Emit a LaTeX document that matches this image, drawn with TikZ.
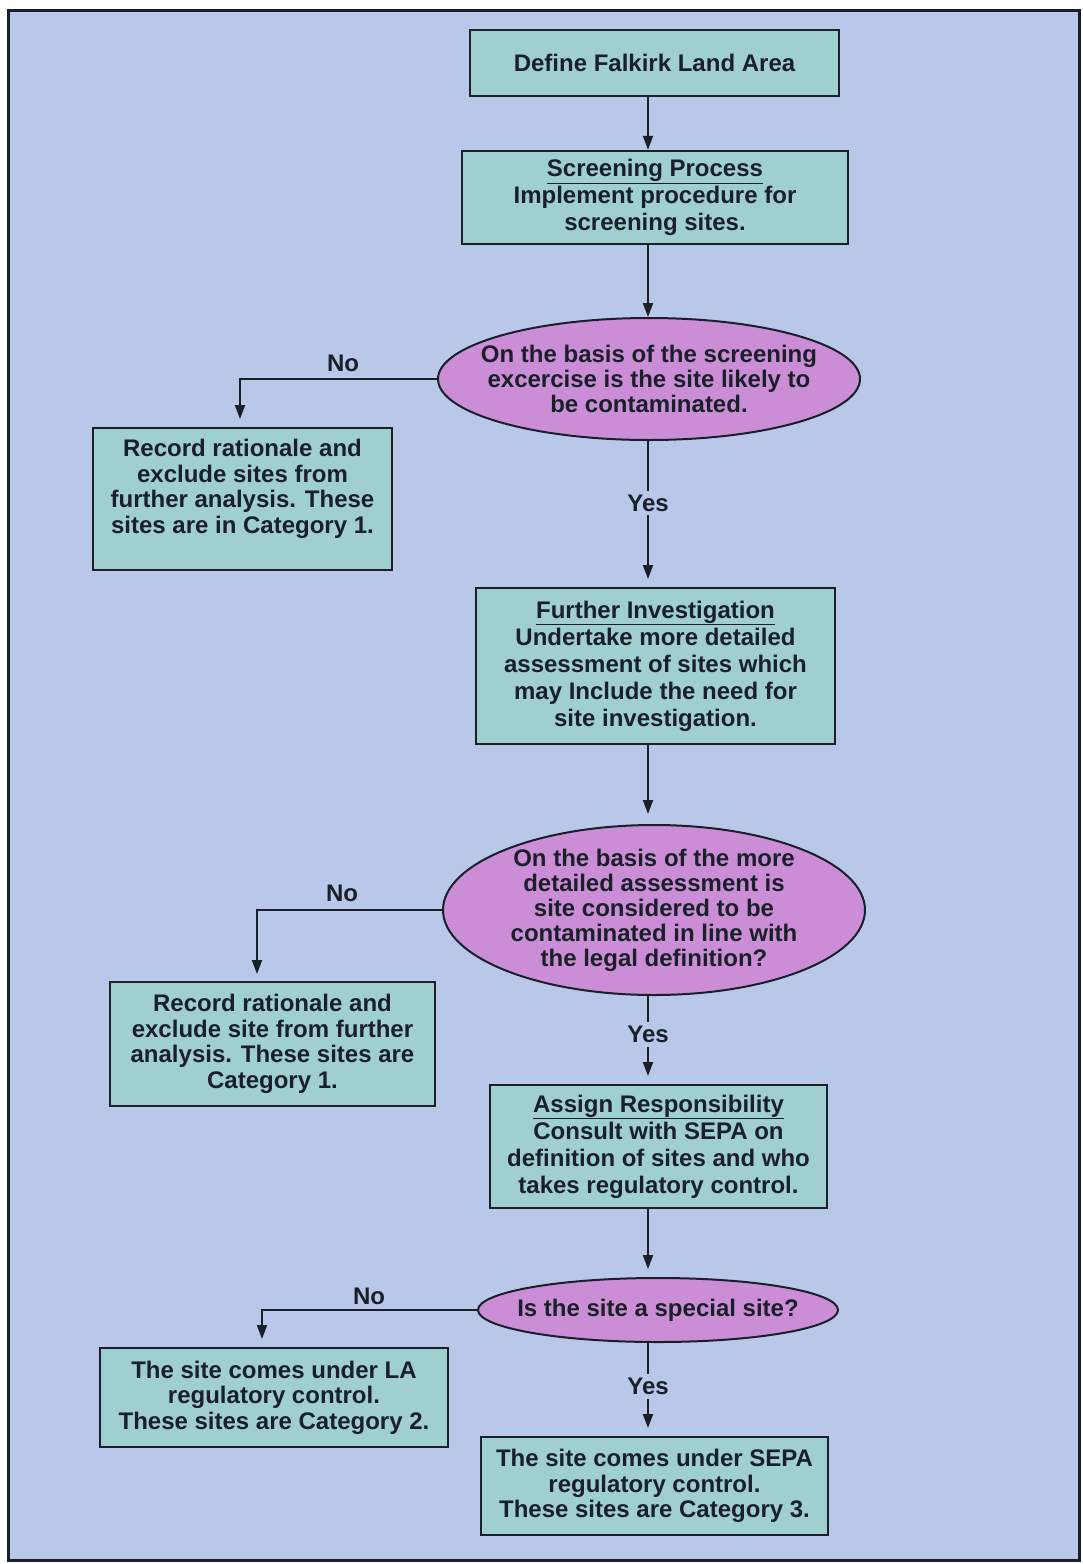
\documentclass[tikz,border=0pt]{standalone}
\usepackage{fontspec}
\setmainfont{Liberation Sans}
\usetikzlibrary{shapes.geometric,arrows.meta}
\definecolor{bg}{HTML}{B9C7E9}
\definecolor{boxfill}{HTML}{9FCFCF}
\definecolor{ellfill}{HTML}{CB8DD5}
\definecolor{ink}{HTML}{1A2029}
\tikzset{
  box/.style={draw=ink, line width=2.5pt, fill=boxfill, inner sep=0pt, align=center, text=ink,
    font=\bfseries\fontsize{24}{25.5}\selectfont},
  wide/.style={font=\bfseries\fontsize{24}{27}\selectfont},
  ell/.style={ellipse, draw=ink, line width=2pt, fill=ellfill, inner sep=0pt},
  elltext/.style={align=center, text=ink, font=\bfseries\fontsize{24}{25}\selectfont},
  arr/.style={draw=ink, line width=2pt, -{Triangle[length=14pt,width=10pt]}},
  lab/.style={fill=bg, inner sep=4pt, text=ink, font=\bfseries\fontsize{24}{26}\selectfont},
  nolab/.style={inner sep=0pt, text=ink, font=\bfseries\fontsize{24}{26}\selectfont}
}
\begin{document}
\begin{tikzpicture}[x=1pt,y=-1pt]
\useasboundingbox (0,0) rectangle (1083,1564);
\fill[white] (0,0) rectangle (1083,1564);
\draw[ink, line width=3pt, fill=bg] (8,10) rectangle (1079,1560);

% nodes
\node[box, minimum width=369pt, minimum height=66pt] (b1) at (654.5,63) {Define Falkirk Land Area};
\node[box, wide, minimum width=386pt, minimum height=93pt] (b2) at (655,197.5)
  {\underline{Screening Process}\\Implement procedure for\\screening sites.};
\node[ell, minimum width=422pt, minimum height=122pt,
  label={[elltext]center:{On the basis of the screening\\excercise is the site likely to\\be contaminated.}}] (e1) at (649,379) {};
\node[box, minimum width=299pt, minimum height=142pt] (b3) at (242.5,499)
  {Record rationale and\\exclude sites from\\further analysis. These\\sites are in Category 1.\\\mbox{}};
\node[box, wide, minimum width=359pt, minimum height=156pt] (b4) at (655.5,666)
  {\underline{Further Investigation}\\Undertake more detailed\\assessment of sites which\\may Include the need for\\site investigation.};
\node[ell, minimum width=422pt, minimum height=170pt,
  label={[elltext]center:{On the basis of the more\\detailed assessment is\\site considered to be\\contaminated in line with\\the legal definition?}}] (e2) at (654,910) {};
\node[box, minimum width=325pt, minimum height=124pt] (b5) at (272.5,1044)
  {Record rationale and\\exclude site from further\\analysis. These sites are\\Category 1.};
\node[box, wide, minimum width=337pt, minimum height=123pt] (b6) at (658.5,1146.5)
  {\underline{Assign Responsibility}\\Consult with SEPA on\\definition of sites and who\\takes regulatory control.};
\node[ell, minimum width=360pt, minimum height=64pt,
  label={[elltext]center:{Is the site a special site?}}] (e3) at (658,1310) {};
\node[box, minimum width=348pt, minimum height=99pt] (b7) at (274,1397.5)
  {The site comes under LA\\regulatory control.\\These sites are Category 2.};
\node[box, minimum width=347pt, minimum height=98pt] (b8) at (654.5,1486)
  {The site comes under SEPA\\regulatory control.\\These sites are Category 3.};

% helper coordinates
\coordinate (ax) at (648,0);
\coordinate (n1) at (240,419);
\coordinate (n2) at (257,974);
\coordinate (n3) at (262,1339);
\coordinate (t4) at (648,579);
\coordinate (t5) at (648,814);
\coordinate (t6) at (648,1076);
\coordinate (t7) at (648,1269);
\coordinate (t8) at (648,1428);

% connectors
\draw[arr] (b1.south -| ax) -- (b2.north -| ax);
\draw[arr] (b2.south -| ax) -- (e1.north -| ax);
\draw[arr] (e1.west) -| (n1);
\draw[arr] (e1.south -| ax) -- node[lab, pos=0.45] {Yes} (t4);
\draw[arr] (b4.south -| ax) -- (t5);
\draw[arr] (e2.west) -| (n2);
\draw[arr] (e2.south -| ax) -- node[lab, pos=0.48] {Yes} (t6);
\draw[arr] (b6.south -| ax) -- (t7);
\draw[arr] (e3.west) -| (n3);
\draw[arr] (e3.south -| ax) -- node[lab, pos=0.51] {Yes} (t8);

% No labels
\node[nolab] (no1) at (343,363) {No};
\node[nolab] (no2) at (342,893) {No};
\node[nolab] (no3) at (369,1296) {No};
\end{tikzpicture}
\end{document}
